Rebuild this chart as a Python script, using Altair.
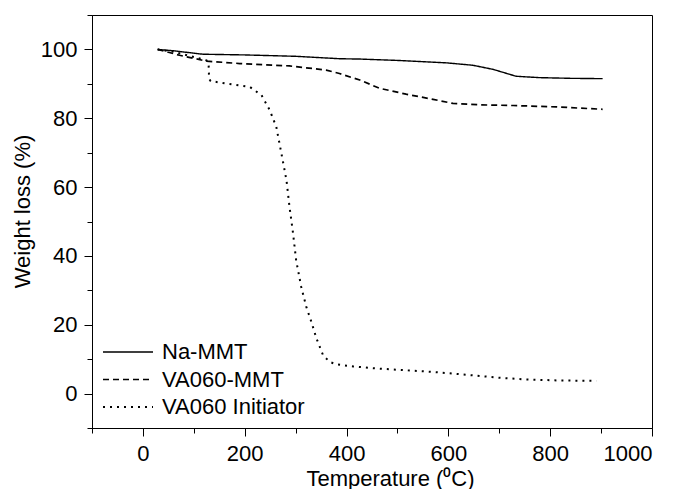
import altair as alt
import pandas as pd

series_names = ["Na-MMT", "VA060-MMT", "VA060 Initiator"]

na_t = [29, 60, 118, 200, 300, 386, 426, 500, 596, 648, 688, 733, 779, 840, 903]
na_w = [100, 99.6, 98.6, 98.4, 98.0, 97.3, 97.2, 96.8, 96.1, 95.4, 94.2, 92.2, 91.8, 91.6, 91.5]

va_t = [29, 72, 125, 190, 288, 360, 386, 426, 465, 517, 570, 609, 661, 727, 812, 903]
va_w = [100, 98.3, 96.6, 95.9, 95.2, 94.0, 93.0, 91.1, 88.7, 87.0, 85.5, 84.3, 83.9, 83.7, 83.3, 82.6]

in_t = [29, 60, 100, 125, 129, 130, 133, 164, 210, 233, 249, 262, 272, 282, 288, 295,
        301, 311, 321, 331, 341, 354, 367, 380, 413, 458, 570, 648, 700, 753, 820, 891]
in_w = [100, 99.3, 97.8, 96.8, 96.0, 91.5, 90.8, 90.1, 89.1, 86.7, 82.4, 77.5, 69.8, 62.0, 54.2, 46.5,
        38.7, 31.0, 25.2, 20.8, 16.0, 11.1, 9.2, 8.5, 7.9, 7.3, 6.3, 5.3, 4.6, 4.1, 3.8, 3.7]

x_ticks = list(range(-100, 1001, 100))
y_ticks = list(range(-10, 111, 10))

rows = []
for name, ts, ws in zip(series_names, [na_t, va_t, in_t], [na_w, va_w, in_w]):
    for t, w in zip(ts, ws):
        rows.append({"series": name, "T": t, "W": w})
df = pd.DataFrame(rows)

FONT = "Liberation Sans"

chart = alt.Chart(df).mark_line(color="black").encode(
    x=alt.X(
        "T:Q",
        scale=alt.Scale(domain=[-100, 1000], nice=False, zero=False),
        axis=alt.Axis(
            values=x_ticks,
            format="d",
            labelExpr="datum.value % 200 === 0 ? datum.label : ''",
            tickSize={"condition": {"test": "datum.value % 200 === 0", "value": 8}, "value": 5},
            labelPadding=7,
            title="Temperature (⁰C)",
            titleX=298,
            titleY=57,
            titleAnchor="start",
            titleAlign="center",
            titleBaseline="alphabetic",
        ),
    ),
    y=alt.Y(
        "W:Q",
        scale=alt.Scale(domain=[-10, 110], nice=False, zero=False),
        axis=alt.Axis(
            values=y_ticks,
            format="d",
            labelExpr="datum.value % 20 === 0 ? datum.label : ''",
            tickSize={"condition": {"test": "datum.value % 20 === 0", "value": 8}, "value": 5},
            labelPadding=7,
            title="Weight loss (%)",
            titleX=-63,
            titleY=196,
            titleAngle=-90,
            titleAlign="center",
            titleBaseline="alphabetic",
        ),
    ),
    strokeWidth=alt.StrokeWidth(
        "series:N",
        scale=alt.Scale(domain=series_names, range=[1.4, 2, 1.8]),
        legend=None,
    ),
    strokeDash=alt.StrokeDash(
        "series:N",
        scale=alt.Scale(domain=series_names, range=[[1, 0], [6, 4], [2, 5]]),
        legend=alt.Legend(
            title=None,
            orient="none",
            legendX=10,
            legendY=326,
            symbolType="stroke",
            symbolSize=2500,
            symbolStrokeWidth=1.5,
            symbolStrokeColor="black",
            labelFont=FONT,
            labelFontSize=22,
            labelColor="black",
            labelOffset=8,
            clipHeight=22,
            rowPadding=5.5,
            padding=0,
        ),
    ),
).properties(
    width=560,
    height=413,
    autosize=alt.AutoSizeParams(type="none"),
    padding={"left": 92, "top": 15, "right": 29, "bottom": 61},
    background="white",
).configure_view(
    stroke="black", strokeWidth=1
).configure_axis(
    grid=False,
    domainColor="black",
    tickColor="black",
    labelColor="black",
    titleColor="black",
    labelFont=FONT,
    titleFont=FONT,
    labelFontSize=22,
    titleFontSize=22,
    titleFontWeight="normal",
    domainWidth=1,
    tickWidth=1,
)

chart.save("out.html", embed_options={"renderer": "svg", "actions": False})
